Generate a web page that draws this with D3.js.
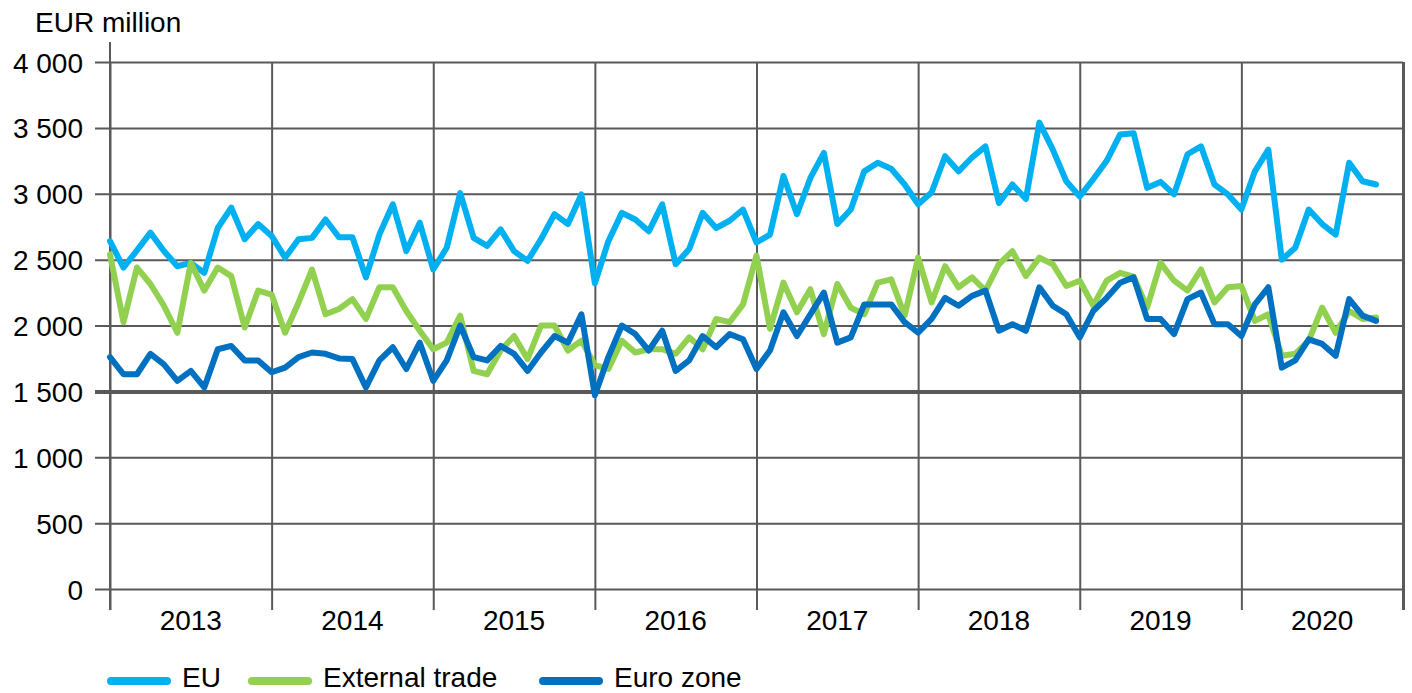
<!DOCTYPE html>
<html>
<head>
<meta charset="utf-8">
<script src="https://cdnjs.cloudflare.com/ajax/libs/d3/7.8.5/d3.min.js"></script>
<style>
  body { margin: 0; background: #fff; }
  text { font-family: Arial, "Liberation Sans", sans-serif; fill: #000; }
</style>
</head>
<body>
<div id="chart"></div>
<script>
var width = 1412,
    height = 693;

// monthly values, Jan 2013 .. Nov 2020
var years = ['2013', '2014', '2015', '2016', '2017', '2018', '2019', '2020'];
var yTicks = [0, 500, 1000, 1500, 2000, 2500, 3000, 3500, 4000];

var eu = [
    2640, 2440, 2570, 2705, 2565, 2450, 2475, 2400, 2740, 2895, 2655, 2770,
    2680, 2515, 2655, 2665, 2805, 2670, 2670, 2365, 2690, 2920, 2565, 2780,
    2425, 2590, 3005, 2665, 2605, 2730, 2565, 2490, 2655, 2845, 2770, 2995,
    2320, 2640, 2855, 2805, 2715, 2920, 2465, 2580, 2855, 2740, 2795, 2880,
    2630, 2690, 3135, 2845, 3120, 3310, 2770, 2880, 3170, 3235, 3190, 3070,
    2920, 3010, 3285, 3170, 3275, 3360, 2930, 3070, 2960, 3540, 3335, 3095,
    2980, 3110, 3250, 3450, 3460, 3045, 3090, 2995, 3300, 3360, 3070, 2995,
    2880, 3170, 3335, 2500, 2590, 2880, 2770, 2690, 3235, 3095, 3070
];

var external = [
    2540, 2025, 2440, 2315, 2150, 1945, 2475, 2265, 2440, 2375, 1985, 2265,
    2235, 1945, 2175, 2425, 2085, 2125, 2200, 2050, 2290, 2290, 2110, 1960,
    1820, 1870, 2075, 1655, 1630, 1810, 1920, 1745, 2000, 2000, 1810, 1885,
    1700, 1670, 1885, 1795, 1820, 1820, 1785, 1910, 1820, 2050, 2025, 2160,
    2530, 1975, 2325, 2100, 2275, 1935, 2315, 2135, 2085, 2325, 2350, 2075,
    2515, 2175, 2450, 2290, 2365, 2265, 2465, 2565, 2375, 2515, 2465, 2300,
    2340, 2150, 2340, 2400, 2370, 2135, 2475, 2340, 2265, 2425, 2175, 2290,
    2300, 2035, 2085, 1770, 1785, 1885, 2135, 1945, 2110, 2050, 2060
];

var euroZone = [
    1760, 1630, 1630, 1785, 1705, 1580, 1655, 1530, 1820, 1845, 1735, 1735,
    1645, 1680, 1760, 1795, 1785, 1750, 1745, 1530, 1735, 1835, 1670, 1870,
    1580, 1735, 2000, 1760, 1735, 1845, 1785, 1655, 1795, 1920, 1870, 2085,
    1470, 1760, 2000, 1935, 1810, 1960, 1655, 1735, 1920, 1835, 1935, 1895,
    1670, 1810, 2100, 1920, 2085, 2250, 1870, 1910, 2160, 2160, 2160, 2025,
    1945, 2050, 2210, 2150, 2225, 2265, 1960, 2010, 1960, 2290, 2150, 2085,
    1910, 2110, 2210, 2325, 2365, 2050, 2050, 1935, 2200, 2250, 2010, 2010,
    1920, 2160, 2290, 1680, 1735, 1895, 1860, 1770, 2200, 2075, 2035
];

var seriesNames = ['EU', 'External trade', 'Euro zone'];
var seriesColors = ['#00b0f0', '#92d050', '#0070c0'];
var seriesData = [eu, external, euroZone];

var gridColor = '#595959';

var svg = d3.select('#chart')
    .append('svg')
    .attr('width', width)
    .attr('height', height);

var x = d3.scaleLinear().domain([0, 96]).range([110, 1403]);
var y = d3.scaleLinear().domain([0, 4000]).range([589, 62]);

var fmt = d3.formatLocale({ decimal: '.', thousands: '\u00a0', grouping: [3], currency: ['', ''] }).format(',');

// y axis + horizontal grid
var yAxis = svg.append('g')
    .attr('transform', 'translate(95,0)')
    .call(d3.axisLeft(y)
        .tickValues(yTicks)
        .tickSizeInner(-(1403 - 95))
        .tickSizeOuter(0)
        .tickPadding(12)
        .tickFormat(fmt));
yAxis.select('.domain').remove();
yAxis.selectAll('.tick line')
    .attr('stroke', gridColor)
    .attr('stroke-width', d => d === 1500 ? 4 : 2);
yAxis.selectAll('.tick text')
    .attr('font-size', 28)
    .attr('dy', '0.36em')
    .attr('fill', '#000');

// vertical year lines
var xAxis = svg.append('g')
    .attr('transform', 'translate(0,610)')
    .call(d3.axisBottom(x)
        .tickValues(d3.range(0, 97, 12))
        .tickSizeInner(-(610 - 62))
        .tickSizeOuter(0)
        .tickFormat(''));
xAxis.select('.domain').remove();
xAxis.selectAll('.tick line')
    .attr('stroke', gridColor)
    .attr('stroke-width', d => d === 96 ? 3 : 2);

// left axis line reaches a bit higher
svg.append('line')
    .attr('x1', x(0)).attr('x2', x(0))
    .attr('y1', 42).attr('y2', 610)
    .attr('stroke', gridColor)
    .attr('stroke-width', 2);

// year labels
svg.selectAll('.year')
    .data(years)
    .enter()
    .append('text')
    .attr('class', 'year')
    .attr('x', (d, i) => x(i * 12 + 6))
    .attr('y', 630)
    .attr('text-anchor', 'middle')
    .attr('font-size', 28)
    .text(d => d);

svg.append('text')
    .attr('x', 35)
    .attr('y', 32)
    .attr('font-size', 28)
    .text('EUR million');

// lines
var line = d3.line()
    .x((d, i) => x(i))
    .y(d => y(d));

svg.selectAll('.series')
    .data(seriesData)
    .enter()
    .append('path')
    .attr('class', 'series')
    .attr('d', line)
    .attr('fill', 'none')
    .attr('stroke', (d, i) => seriesColors[i])
    .attr('stroke-width', 6)
    .attr('stroke-linejoin', 'round')
    .attr('stroke-linecap', 'round');

// legend
var legendX = [107, 248, 539];
var legend = svg.selectAll('.legend')
    .data(seriesNames)
    .enter()
    .append('g')
    .attr('class', 'legend')
    .attr('transform', (d, i) => 'translate(' + legendX[i] + ',681)');

legend.append('line')
    .attr('x1', 4).attr('x2', 60)
    .attr('y1', 0).attr('y2', 0)
    .attr('stroke', (d, i) => seriesColors[i])
    .attr('stroke-width', 8)
    .attr('stroke-linecap', 'round');

legend.append('text')
    .attr('x', 75)
    .attr('y', 6)
    .attr('font-size', 28)
    .text(d => d);
</script>
</body>
</html>
